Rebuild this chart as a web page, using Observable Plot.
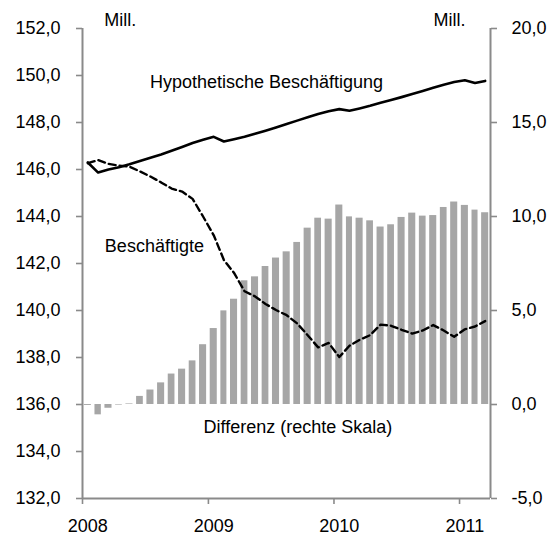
<!DOCTYPE html>
<html>
<head>
<meta charset="utf-8">
<script src="https://cdn.jsdelivr.net/npm/d3@7"></script>
<script src="https://cdn.jsdelivr.net/npm/@observablehq/plot@0.6"></script>
<style>
  html, body { margin: 0; padding: 0; background: #fff; }
  #chart { width: 552px; height: 537px; }
</style>
</head>
<body>
<div id="chart"></div>
<script>
// ---- Data (Mill.) ----
const months = [
  "2008-01","2008-02","2008-03","2008-04","2008-05","2008-06","2008-07","2008-08","2008-09","2008-10","2008-11","2008-12",
  "2009-01","2009-02","2009-03","2009-04","2009-05","2009-06","2009-07","2009-08","2009-09","2009-10","2009-11","2009-12",
  "2010-01","2010-02","2010-03","2010-04","2010-05","2010-06","2010-07","2010-08","2010-09","2010-10","2010-11","2010-12",
  "2011-01","2011-02","2011-03"
];
const hypothetisch = [
  146.30,145.87,146.00,146.10,146.22,146.36,146.50,146.64,146.80,146.96,147.13,147.27,
  147.39,147.19,147.29,147.39,147.52,147.65,147.79,147.94,148.08,148.22,148.36,148.48,
  148.57,148.50,148.60,148.71,148.84,148.96,149.08,149.21,149.34,149.48,149.61,149.72,
  149.80,149.68,149.77
];
const beschaeftigte = [
  146.27,146.40,146.24,146.16,146.12,145.92,145.70,145.45,145.19,145.06,144.75,144.00,
  143.20,142.15,141.60,140.82,140.60,140.28,140.02,139.80,139.45,138.95,138.43,138.62,
  138.02,138.50,138.75,138.95,139.40,139.35,139.18,139.02,139.15,139.38,139.15,138.88,
  139.20,139.32,139.55
];
const differenz = [
  -0.05,-0.55,-0.20,-0.03,0.03,0.43,0.77,1.15,1.62,1.88,2.32,3.18,
  4.04,4.98,5.60,6.58,6.79,7.34,7.79,8.12,8.62,9.38,9.91,9.86,
  10.61,9.98,9.91,9.77,9.44,9.56,9.95,10.18,10.02,10.05,10.48,10.77,
  10.59,10.34,10.20
];
const leftTicks = [132,134,136,138,140,142,144,146,148,150,152];
const rightTicks = [-5,0,5,10,15,20];
const yearLabels = ["2008","2009","2010","2011"];

// right scale (Differenz) -> left scale: 0 at 136, 5 units per 4 left units
const rightZero = 136, rightFactor = 0.8;
const toLeft = r => rightZero + r * rightFactor;

const parse = d3.utcParse("%Y-%m");
const rows = months.map((m, i) => {
  const start = parse(m);
  const end = d3.utcMonth.offset(start, 1);
  return {
    start, end,
    mid: new Date((+start + +end) / 2),
    hyp: hypothetisch[i],
    emp: beschaeftigte[i],
    diff: differenz[i]
  };
});
const xStart = rows[0].start;
const xEnd = rows[rows.length - 1].end;
const yearTicks = yearLabels.map(y => d3.utcParse("%Y")(y));
const yearLabelPos = yearTicks.map(d => new Date((+d + +d3.utcMonth.offset(d, 1)) / 2));

const fmt = v => v.toFixed(1).replace(".", ",");
const grey = "#8a8a8a";
const FS = 18;

const labels = [
  {text: "Hypothetische Beschäftigung", date: "2009-06-19", value: 149.71},
  {text: "Beschäftigte", date: "2008-07-28", value: 142.73},
  {text: "Differenz (rechte Skala)", date: "2009-09-18", value: 135.03}
];
const units = [
  {text: "Mill.", date: "2008-04-20"},
  {text: "Mill.", date: "2010-12-03"}
];
const pd = d3.utcParse("%Y-%m-%d");

const chart = Plot.plot({
  width: 552,
  height: 537,
  marginLeft: 82,
  marginRight: 62,
  marginTop: 28,
  marginBottom: 39,
  style: {fontFamily: "'Liberation Sans', Arial, sans-serif", fontSize: FS + "px", color: "#000", background: "#fff"},
  x: {type: "utc", domain: [xStart, xEnd]},
  y: {domain: [132, 152]},
  marks: [
    Plot.rectY(rows, {
      x1: "start", x2: "end",
      y1: () => rightZero, y2: d => toLeft(d.diff),
      fill: "#a6a6a6", insetLeft: 1.8, insetRight: 1.8
    }),
    Plot.line(rows, {x: "mid", y: "hyp", stroke: "#000", strokeWidth: 2.6}),
    Plot.line(rows, {x: "mid", y: "emp", stroke: "#000", strokeWidth: 2.4, strokeDasharray: "7,4"}),
    // frame lines
    Plot.ruleX([xStart], {stroke: grey, strokeWidth: 2}),
    Plot.ruleX([xEnd], {stroke: grey, strokeWidth: 2}),
    Plot.ruleY([132], {stroke: grey, strokeWidth: 2}),
    // left axis
    Plot.axisY({
      anchor: "left", ticks: leftTicks, tickFormat: fmt, label: null,
      tickSize: 6, tickPadding: 16, stroke: grey, strokeWidth: 1.6, fill: "#000", fontSize: FS
    }),
    // right axis (Differenz)
    Plot.axisY({
      anchor: "right", ticks: rightTicks.map(toLeft), tickFormat: v => fmt((v - rightZero) / rightFactor), label: null,
      tickSize: 6, tickPadding: 15, stroke: grey, strokeWidth: 1.6, fill: "#000", fontSize: FS
    }),
    // x tick marks at year starts
    Plot.axisX({ticks: yearTicks, tickFormat: () => "", label: null, tickSize: 6, stroke: grey, strokeWidth: 1.6}),
    // year labels centred on January
    Plot.axisX({ticks: yearLabelPos, tickFormat: d3.utcFormat("%Y"), label: null, tickSize: 0, tickPadding: 21, fill: "#000", fontSize: FS}),
    // annotations
    Plot.text(labels, {x: d => pd(d.date), y: "value", text: "text", fill: "#000", fontSize: FS, textAnchor: "middle"}),
    Plot.text(units, {x: d => pd(d.date), y: () => 152, text: "text", dy: -8, fill: "#000", fontSize: FS, textAnchor: "middle"})
  ]
});
document.getElementById("chart").appendChild(chart);
</script>
</body>
</html>
